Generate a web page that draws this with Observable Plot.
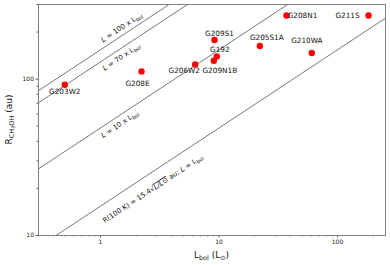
<!DOCTYPE html>
<html>
<head>
<meta charset="utf-8">
<script src="https://cdn.jsdelivr.net/npm/d3@7"></script>
<script src="https://cdn.jsdelivr.net/npm/@observablehq/plot@0.6"></script>
<style>
  html, body { margin: 0; padding: 0; background: #fff; }
  #chart svg { display: block; font-family: "DejaVu Sans", sans-serif; }
</style>
</head>
<body>
<div id="chart"></div>
<script>
// ---- data ----
const names = ["G203W2", "G208E", "G206W2", "G209S1", "G192", "G209N1B", "G205S1A", "G210WA", "G208N1", "G211S"];
const lbol  = [0.50, 2.22, 6.3, 9.16, 9.58, 9.04, 22.1, 60.7, 37.1, 182.7];
const rch3oh = [92, 112, 124, 178, 139.5, 131, 163, 147, 255, 255];

// model lines R(100 K) = 15.4 * sqrt(L / Lsun) au, with L = factor * Lbol
const coeff = 15.4;
const lineFactors = [1, 10, 70, 100];
const lineLabels = ["1", "10", "70", "100"];
const lbolRange = [0.3, 254];

const xMajor = [1, 10, 100];
const xMinor = [0.3, 0.4, 0.5, 0.6, 0.7, 0.8, 0.9, 2, 3, 4, 5, 6, 7, 8, 9, 20, 30, 40, 50, 60, 70, 80, 90, 200];
const yMajor = [10, 100];
const yMinor = [20, 30, 40, 50, 60, 70, 80, 90, 200, 300];

// ---- layout / style config ----
const labelOffsets = {
  G203W2: [0, 7], G208E: [-4, 12], G206W2: [-11, 6], G209S1: [5, -6], G192: [3, -7],
  G209N1B: [6, 10], G205S1A: [7, -8], G210WA: [-5, -12], G208N1: [16, 0], G211S: [-21, 0]
};
// centres of the rotated line labels in data coordinates (L, R)
const lineLabelPos = { "100": [1.53, 212], "70": [1.52, 137], "10": [1.475, 50.9], "1": [2.8, 19.7] };

const points = names.map((n, i) => ({ name: n, L: lbol[i], R: rch3oh[i] }));
const lines = lineFactors.flatMap(f =>
  lbolRange.map(L => ({ f, L, R: coeff * Math.sqrt(f * L) })));

const frameColor = "#808080";

const marks = [
  Plot.line(lines, { x: "L", y: "R", z: "f", stroke: "#555", strokeWidth: 0.8, clip: true }),
  Plot.dot(points, { x: "L", y: "R", r: 3.2, fill: "#ff0000", stroke: "none" }),
  ...points.map(p => Plot.text([p], {
    x: "L", y: "R", text: "name", dx: labelOffsets[p.name][0], dy: labelOffsets[p.name][1],
    fontSize: 7.3, fill: "#111", textAnchor: "middle"
  })),
  Plot.axisX(xMajor, { tickSize: 2.5, tickPadding: 2, fontSize: 6, stroke: "#555", fill: "#222", tickFormat: d => String(d), label: null }),
  Plot.axisX(xMinor, { tickSize: 1.4, stroke: "#555", tickFormat: () => "", label: null }),
  Plot.axisY(yMajor, { tickSize: 2.5, tickPadding: 2, fontSize: 6, stroke: "#555", fill: "#222", tickFormat: d => String(d), label: null }),
  Plot.axisY(yMinor, { tickSize: 1.4, stroke: "#555", tickFormat: () => "", label: null }),
  Plot.frame({ stroke: frameColor, strokeWidth: 1 })
];

const plot = Plot.plot({
  width: 390,
  height: 265,
  marginLeft: 38,
  marginRight: 5,
  marginTop: 4,
  marginBottom: 30,
  x: { type: "log", domain: lbolRange, axis: null },
  y: { type: "log", domain: [10, 300], axis: null },
  style: { fontFamily: "DejaVu Sans, sans-serif", background: "#fff" },
  marks
});
document.getElementById("chart").appendChild(plot);

// remove empty minor-tick labels
d3.select(plot).selectAll("text").filter(function () { return this.textContent === ""; }).remove();

// ---- rich text labels (subscripts etc.), positioned through the plot's scales ----
const sx = plot.scale("x"), sy = plot.scale("y");
const svg = d3.select(plot);
const px = v => sx.apply(v), py = v => sy.apply(v);
// angle of the model lines in pixel space
const a0 = [px(1), py(coeff)], a1 = [px(100), py(coeff * 10)];
const angle = Math.atan2(a1[1] - a0[1], a1[0] - a0[0]) * 180 / Math.PI;

const lbl = svg.append("g").attr("font-family", "DejaVu Sans, sans-serif").attr("fill", "#111");

lineFactors.forEach((f, k) => {
  const key = lineLabels[k];
  const [L, R] = lineLabelPos[key];
  const t = lbl.append("text")
    .attr("transform", `translate(${px(L)},${py(R)}) rotate(${angle})`)
    .attr("text-anchor", "middle").attr("dominant-baseline", "central")
    .attr("font-size", 7);
  if (f === 1) {
    t.append("tspan").text("R(100 K) = 15.4\u221A");
    t.append("tspan").attr("text-decoration", "overline").attr("font-style", "italic").text("L/L\u2299");
    t.append("tspan").text(" au; ");
    t.append("tspan").attr("font-style", "italic").text("L");
    t.append("tspan").text(" = L");
    t.append("tspan").attr("dy", 1.6).attr("font-size", "0.72em").text("bol");
  } else {
    t.append("tspan").attr("font-style", "italic").text("L");
    t.append("tspan").text(` = ${key} x L`);
    t.append("tspan").attr("dy", 1.6).attr("font-size", "0.72em").text("bol");
  }
});

// axis titles
const xt = lbl.append("text").attr("x", (38 + 385) / 2).attr("y", 258)
  .attr("text-anchor", "middle").attr("font-size", 9);
xt.append("tspan").text("L");
xt.append("tspan").attr("dy", 1.6).attr("font-size", "0.72em").text("bol");
xt.append("tspan").attr("dy", -1.6).text(" (L");
xt.append("tspan").attr("dy", 1.6).attr("font-size", "0.72em").text("\u2299");
xt.append("tspan").attr("dy", -1.6).text(")");

const yt = lbl.append("text").attr("transform", `translate(12,${(4 + 235) / 2}) rotate(-90)`)
  .attr("text-anchor", "middle").attr("font-size", 9);
yt.append("tspan").text("R");
yt.append("tspan").attr("dy", 1.6).attr("font-size", "0.72em").text("CH");
yt.append("tspan").attr("dy", 1.2).attr("font-size", "0.55em").text("3");
yt.append("tspan").attr("dy", -1.2).attr("font-size", "0.72em").text("OH");
yt.append("tspan").attr("dy", -1.6).text(" (au)");
</script>
</body>
</html>
